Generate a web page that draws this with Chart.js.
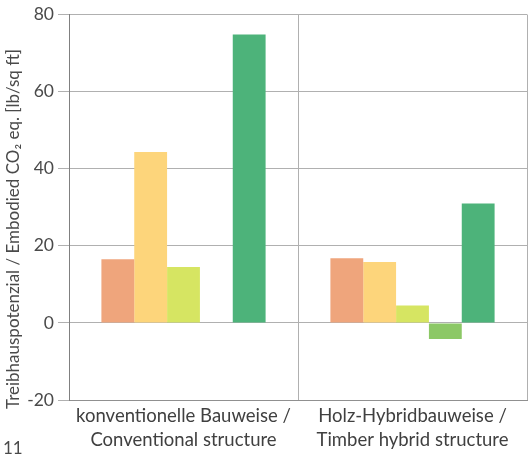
<!DOCTYPE html>
<html>
<head>
<meta charset="utf-8">
<script src="https://cdn.jsdelivr.net/npm/chart.js@4"></script>
<style>
  html,body{margin:0;padding:0;background:#fff;}
  #wrap{width:529px;height:458px;position:relative;}
</style>
</head>
<body>
<div id="wrap"><canvas id="c" width="529" height="458"></canvas></div>
<script>
const categories = [
  ["konventionelle Bauweise /", "Conventional structure"],
  ["Holz-Hybridbauweise /", "Timber hybrid structure"]
];
const seriesNames = ["Serie 1", "Serie 2", "Serie 3", "Serie 4", "Serie 5"];
const series1 = [16.5, 16.8];
const series2 = [44.3, 15.8];
const series3 = [14.5, 4.5];
const series4 = [null, -4.2];
const series5 = [74.8, 31.0];
const seriesColors = ["#EFA57C", "#FDD57B", "#D6E562", "#8CC866", "#4DB37A"];
const yTicks = [-20, 0, 20, 40, 60, 80];
const yTitle = "Treibhauspotenzial / Embodied CO\u2082 eq. [lb/sq ft]";
const pageNumber = "11";

const allSeries = [series1, series2, series3, series4, series5];

const FONT = "Lato, 'Open Sans', sans-serif";

const extraText = {
  id: 'extraText',
  afterDraw(chart) {
    const ctx = chart.ctx;
    ctx.save();
    ctx.fillStyle = '#4a4a4a';
    ctx.font = '17px ' + FONT;
    ctx.textAlign = 'center';
    ctx.textBaseline = 'middle';
    ctx.translate(14, 229);
    ctx.rotate(-Math.PI / 2);
    ctx.fillText(yTitle, 0, 0);
    ctx.restore();
    ctx.save();
    ctx.fillStyle = '#4a4a4a';
    ctx.font = '17px ' + FONT;
    ctx.textAlign = 'left';
    ctx.textBaseline = 'middle';
    ctx.fillText(pageNumber, 3, 449);
    ctx.restore();
  }
};

new Chart(document.getElementById('c'), {
  type: 'bar',
  data: {
    labels: categories,
    datasets: allSeries.map((d, i) => ({
      label: seriesNames[i],
      data: d,
      backgroundColor: seriesColors[i],
      borderWidth: 0,
      categoryPercentage: 0.717,
      barPercentage: 1.0
    }))
  },
  options: {
    responsive: false,
    animation: false,
    devicePixelRatio: 1,
    layout: { padding: { top: 14, right: 2, bottom: 0, left: 0 } },
    plugins: { legend: { display: false }, tooltip: { enabled: false } },
    scales: {
      x: {
        grid: { color: '#b0b0b0', lineWidth: 1, drawTicks: false, offset: true },
        border: { color: '#909090' },
        ticks: { color: '#404040', font: { family: FONT, size: 18.5, lineHeight: 1.3 }, padding: 4, maxRotation: 0 },
        afterFit(s) { s.height = 58; }
      },
      y: {
        min: -20, max: 80,
        afterBuildTicks(s) { s.ticks = yTicks.map(v => ({ value: v })); },
        grid: { color: '#b0b0b0', lineWidth: 1, tickLength: 11, drawTicks: true },
        border: { color: '#808080' },
        ticks: { color: '#4a4a4a', font: { family: FONT, size: 17.5 }, padding: 4 },
        afterFit(s) { s.width = 69; }
      }
    }
  },
  plugins: [extraText]
});
</script>
</body>
</html>
